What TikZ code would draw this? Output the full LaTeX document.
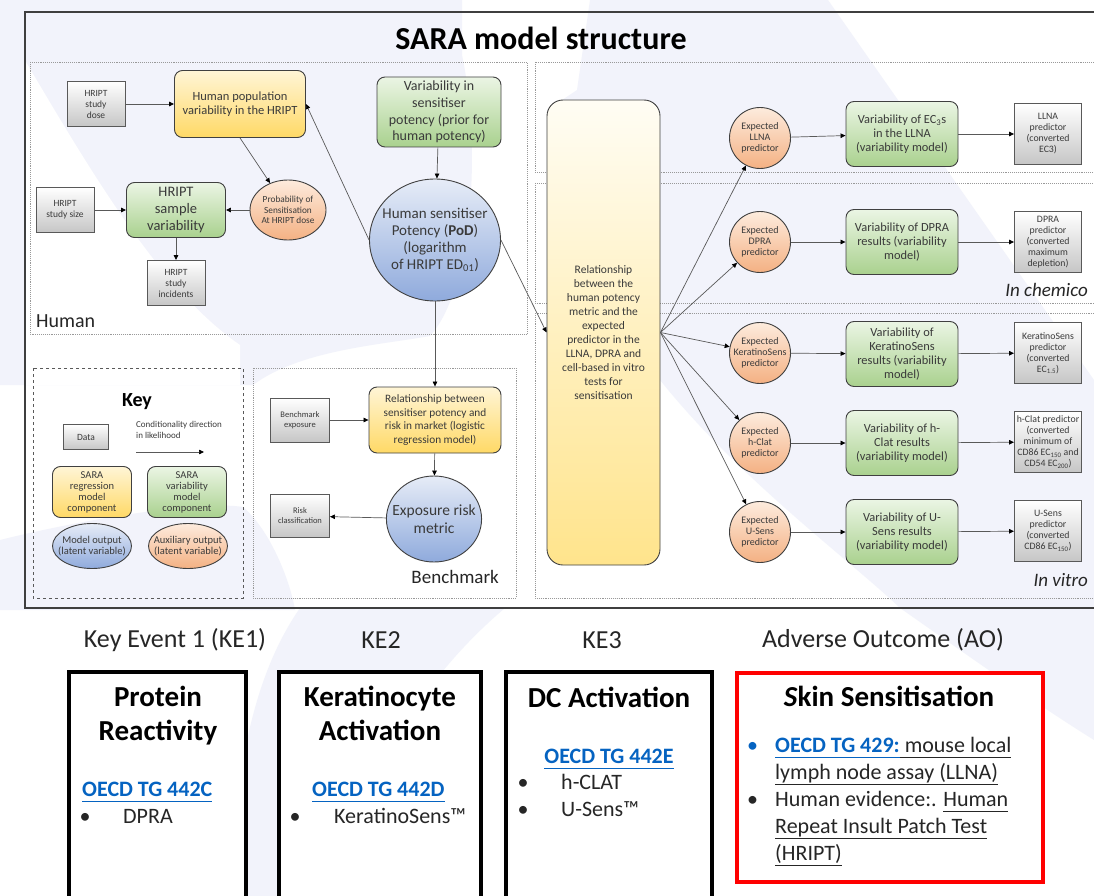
\documentclass[tikz,border=0pt]{standalone}
\usepackage{fontspec}
\setmainfont{Carlito}
\usetikzlibrary{arrows.meta,positioning,shapes.geometric}
\definecolor{lavbg}{HTML}{F2F3FB}
\definecolor{framegray}{HTML}{3F3F3F}
\definecolor{edgegray}{HTML}{404040}
\definecolor{txtgray}{HTML}{3A3A3A}
\definecolor{datagray}{HTML}{C6C6C6}
\definecolor{yeltop}{HTML}{FFF5D6}
\definecolor{yelbot}{HTML}{FFD966}
\definecolor{reltop}{HTML}{FFFDF4}
\definecolor{relbot}{HTML}{FFE48C}
\definecolor{grntop}{HTML}{EBF5E4}
\definecolor{grnbot}{HTML}{A9D18E}
\definecolor{blutop}{HTML}{E6ECF7}
\definecolor{blubot}{HTML}{8FAADC}
\definecolor{orgtop}{HTML}{FDEBDD}
\definecolor{orgbot}{HTML}{F4B183}
\definecolor{linkblue}{HTML}{0563C1}
\definecolor{aored}{HTML}{FF0000}
\definecolor{arrowgray}{HTML}{595959}
\newcommand{\fsz}[2]{\fontsize{#1}{#2}\selectfont}
\newcommand{\ulin}[1]{$\underline{\hbox{#1\vphantom{(y}}}$}
\newcommand{\oecd}[1]{\textcolor{linkblue}{\textbf{\ulin{#1}}}}
\tikzset{
  shapebase/.style = {draw=edgegray,line width=0.9pt,align=center,
                      inner sep=1pt,text=txtgray},
  databox/.style   = {shapebase,rectangle,draw=arrowgray,top color=white,
                      bottom color=datagray,minimum width=58pt,
                      minimum height=45pt,font=\fsz{9.5}{11}},
  regbox/.style    = {shapebase,rounded corners=8pt,top color=yeltop,
                      bottom color=yelbot},
  relbox/.style    = {shapebase,rounded corners=16pt,top color=reltop,
                      bottom color=relbot},
  varbox/.style    = {shapebase,rounded corners=8pt,top color=grntop,
                      bottom color=grnbot},
  outnode/.style   = {shapebase,ellipse,inner xsep=-8pt,inner ysep=-4pt,
                      top color=blutop,bottom color=blubot},
  auxnode/.style   = {shapebase,ellipse,inner xsep=-8pt,inner ysep=-4pt,
                      top color=orgtop,bottom color=orgbot},
  expnode/.style   = {auxnode,minimum width=61pt,minimum height=61pt,
                      font=\fsz{10}{11}},
  varrow/.style    = {varbox,minimum width=112pt,minimum height=65pt,
                      font=\fsz{12.4}{14}},
  predbox/.style   = {databox,minimum width=67pt,minimum height=61pt,
                      font=\fsz{9.8}{11}},
  link/.style      = {-{Triangle[length=5pt,width=4.5pt,color=black]},
                      draw=arrowgray,line width=0.7pt},
  framebox/.style  = {draw=framegray,line width=2.2pt},
  panel/.style     = {draw=black!40,densely dotted,line width=0.9pt},
  keyframe/.style  = {draw=arrowgray,dashed,line width=1pt},
  panellbl/.style  = {font=\fsz{19}{22},text=black!85,inner sep=0pt},
  kebox/.style     = {draw=black,line width=4pt,fill=white},
  aobox/.style     = {draw=aored,line width=4pt,fill=white},
  kelbl/.style     = {font=\fsz{26}{30},text=black!85},
  ketitle/.style   = {font=\bfseries\fsz{29}{34},align=center,text=black,
                      inner sep=0pt},
  ketext/.style    = {font=\fsz{22}{27},text=black!85,inner sep=0pt},
}

\begin{document}
\begin{tikzpicture}[x=1pt,y=-1pt]
  \useasboundingbox (0,0) rectangle (1094,896);
  \clip (0,0) rectangle (1094,896);

  % background swooshes
  \fill[white] (0,0) rectangle (1094,896);
  \fill[lavbg] (0,0) -- (462,0) -- (462,55)
        .. controls (482,150) and (472,290) .. (430,336)
        .. controls (380,345) and (300,350) .. (253,385) -- (0,385) -- cycle;
  \fill[white] (26,62) .. controls (90,170) and (160,290) .. (240,345)
        -- (240,385) -- (26,385) -- cycle;
  \fill[lavbg] (0,540) .. controls (80,520) and (200,500) .. (243,507)
        .. controls (270,530) and (290,580) .. (295,610) -- (0,610) -- cycle;
  \fill[lavbg] (590,0) -- (828,0) -- (1033,293) -- (1094,380) -- (1094,740)
        .. controls (1030,700) and (960,650) .. (900,608)
        .. controls (850,560) and (740,480) .. (660,380)
        -- (547,330) -- (547,110) -- (577,90) -- cycle;
  \fill[lavbg] (300,608) -- (505,608)
        .. controls (420,680) and (360,780) .. (340,896) -- (230,896)
        .. controls (235,780) and (250,680) .. cycle;

  % frames
  \draw[framebox] (25,12) rectangle (1110,608);
  \draw[panel] (30,62) rectangle (527,334);
  \draw[panel] (253,368) rectangle (516,598);
  \draw[panel] (535,62) rectangle (1110,172);
  \draw[panel] (535,183) rectangle (1110,303);
  \draw[panel] (535,313) rectangle (1110,598);
  \draw[keyframe] (33,368) rectangle (243,598);

  \node[font=\bfseries\fsz{32}{36},text=black] (title) at (541,38)
        {SARA model structure};

  % Human
  \node[databox] (dose) at (96,104) {HRIPT\\study\\dose};
  \node[regbox,minimum width=131pt,minimum height=67pt,font=\fsz{12.5}{14}]
        (popvar) at (240,104) {Human population\\variability in the HRIPT};
  \node[databox] (ssize) at (65,210) {HRIPT\\study size};
  \node[varbox,minimum width=99pt,minimum height=55pt,font=\fsz{14.5}{17}]
        (sample) at (176,210) {HRIPT\\sample\\variability};
  \node[databox] (incid) at (176,283) {HRIPT\\study\\incidents};
  \node[auxnode,minimum width=76pt,minimum height=60pt,font=\fsz{9.3}{10.8}]
        (prob) at (288,210) {Probability of\\Sensitisation\\At HRIPT dose};
  \node[varbox,minimum width=124pt,minimum height=70pt,font=\fsz{14}{16.7}]
        (prior) at (439,112)
        {Variability in\\sensitiser\\potency (prior for\\human potency)};
  \node[outnode,minimum width=131pt,minimum height=122pt,font=\fsz{15}{16.8}]
        (pod) at (435,240) {Human sensitiser\\Potency (\textbf{PoD})\\(logarithm\\
        of HRIPT ED\textsubscript{01})};
  \node[panellbl,anchor=west,font=\fsz{20}{22}] (humanlbl) at (36,321) {Human};

  % Relationship to the predictors
  \node[relbox,minimum width=113pt,minimum height=465pt,font=\fsz{11.5}{14}]
        (rel) at (603.5,332.5) {Relationship\\between the\\human potency\\
        metric and the\\expected\\predictor in the\\LLNA, DPRA and\\
        cell-based in vitro\\tests for\\sensitisation};

  % In chemico rows
  \node[expnode] (llna-exp) at (760,138) {Expected\\LLNA\\predictor};
  \node[varrow] (llna-var) at (902,134)
        {Variability of EC\textsubscript{3}s\\in the LLNA\\(variability model)};
  \node[predbox] (llna-pred) at (1048,134) {LLNA\\predictor\\(converted\\EC3)};
  \node[expnode] (dpra-exp) at (760,242) {Expected\\DPRA\\predictor};
  \node[varrow] (dpra-var) at (902,242)
        {Variability of DPRA\\results (variability\\model)};
  \node[predbox] (dpra-pred) at (1048,242)
        {DPRA\\predictor\\(converted\\maximum\\depletion)};
  \node[panellbl,anchor=east,font=\itshape\fsz{19}{22}] (chemlbl) at (1088,290)
        {In chemico};

  % In vitro rows
  \node[expnode] (ks-exp) at (760,353) {Expected\\KeratinoSens\\predictor};
  \node[varrow] (ks-var) at (902,354)
        {Variability of\\KeratinoSens\\results (variability\\model)};
  \node[predbox] (ks-pred) at (1048,353)
        {KeratinoSens\\predictor\\(converted\\EC\textsubscript{1.5})};
  \node[expnode] (hclat-exp) at (760,443) {Expected\\h-Clat\\predictor};
  \node[varrow] (hclat-var) at (902,443)
        {Variability of h-\\Clat results\\(variability model)};
  \node[predbox] (hclat-pred) at (1048,442)
        {h-Clat predictor\\(converted\\minimum of\\CD86 EC\textsubscript{150} and\\
        CD54 EC\textsubscript{200})};
  \node[expnode] (usens-exp) at (760,532) {Expected\\U-Sens\\predictor};
  \node[varrow] (usens-var) at (902,532)
        {Variability of U-\\Sens results\\(variability model)};
  \node[predbox] (usens-pred) at (1048,531)
        {U-Sens\\predictor\\(converted\\CD86 EC\textsubscript{150})};
  \node[panellbl,anchor=east,font=\itshape\fsz{19}{22}] (vitrolbl) at (1088,580)
        {In vitro};

  % Key
  \node[font=\bfseries\fsz{20}{22},text=black] (keytitle) at (137,402) {Key};
  \node[databox,minimum width=45pt,minimum height=25pt] (keydata) at (86,437)
        {Data};
  \node[anchor=north west,align=left,font=\fsz{9}{11},text=txtgray,
        inner sep=0pt] (keycond) at (136,421)
        {Conditionality direction\\in likelihood};
  \coordinate (keyA) at (136,452);
  \coordinate (keyB) at (204,452);
  \node[regbox,minimum width=79pt,minimum height=51pt,font=\fsz{10.5}{11}]
        (keyreg) at (92,492) {SARA\\regression\\model\\component};
  \node[varbox,minimum width=79pt,minimum height=51pt,font=\fsz{10.5}{11}]
        (keyvar) at (187,492) {SARA\\variability\\model\\component};
  \node[outnode,minimum width=79pt,minimum height=45pt,font=\fsz{10.5}{11.5}]
        (keyout) at (92,546) {Model output\\(latent variable)};
  \node[auxnode,minimum width=79pt,minimum height=45pt,font=\fsz{10.5}{11.5}]
        (keyaux) at (188,546) {Auxiliary output\\(latent variable)};

  % Benchmark
  \node[databox,minimum width=59pt,minimum height=44pt,font=\fsz{8.5}{10}]
        (bexp) at (300,420) {Benchmark\\exposure};
  \node[regbox,minimum width=132pt,minimum height=66pt,font=\fsz{11.3}{13.7}]
        (breg) at (435,420) {Relationship between\\sensitiser potency and\\
        risk in market (logistic\\regression model)};
  \node[outnode,minimum width=95pt,minimum height=86pt,font=\fsz{15.5}{18}]
        (brisk) at (434,519) {Exposure risk\\metric};
  \node[databox,minimum width=59pt,minimum height=43pt,font=\fsz{8.5}{10}]
        (bclass) at (300,516) {Risk\\classification};
  \node[panellbl,anchor=east] (benchlbl) at (499,577) {Benchmark};

  % connectors
  \draw[link] (dose) -- (popvar);
  \draw[link] (popvar.south) -- (prob);
  \draw[link] (prob) -- (sample);
  \draw[link] (ssize) -- (sample);
  \draw[link] (sample) -- (incid);
  \draw[link] (prior) -- (pod);
  \draw[link] (pod.west) -- (popvar.east);
  \draw[link] (pod.east) -- (rel.west);
  \draw[link] (pod.south) -- (breg.north);
  \draw[link] (bexp) -- (breg);
  \draw[link] (breg) -- (brisk);
  \draw[link] (brisk) -- (bclass);
  \draw[link] (keyA) -- (keyB);
  \foreach \r in {llna,dpra,ks,hclat,usens}{
    \draw[link] (rel.east) -- (\r-exp);
    \draw[link] (\r-exp) -- (\r-var);
    \draw[link] (\r-var) -- (\r-pred);
  }

  % Adverse outcome pathway
  \node[kelbl] (ke1lab) at (175,640) {Key Event 1 (KE1)};
  \node[kelbl] (ke2lab) at (381,640) {KE2};
  \node[kelbl] (ke3lab) at (602,640) {KE3};
  \node[kelbl] (aolab) at (883,640) {Adverse Outcome (AO)};

  \draw[kebox] (69,672) rectangle (246,930);
  \draw[kebox] (279,672) rectangle (481,930);
  \draw[kebox] (506,672) rectangle (712,930);
  \draw[aobox] (737,673) rectangle (1043,882);

  % KE1
  \node[ketitle] (ke1title) at (158,716) {Protein\\Reactivity};
  \node[ketext,anchor=base west] (ke1tg) at (82,796) {\oecd{OECD TG 442C}};
  \node[ketext,anchor=base] (ke1dot) at (85,823) {•};
  \node[ketext,anchor=base west] (ke1item) at (123,823) {DPRA};
  % KE2
  \node[ketitle] (ke2title) at (380,713) {Keratinocyte\\Activation};
  \node[ketext,anchor=base west] (ke2tg) at (312,796) {\oecd{OECD TG 442D}};
  \node[ketext,anchor=base] (ke2dot) at (295,823) {•};
  \node[ketext,anchor=base west] (ke2item) at (334,823) {KeratinoSens™};
  % KE3
  \node[ketitle,anchor=base] (ke3title) at (609,707) {DC Activation};
  \node[ketext,anchor=base] (ke3tg) at (609,763) {\oecd{OECD TG 442E}};
  \node[ketext,anchor=base] (ke3dot1) at (523,789) {•};
  \node[ketext,anchor=base west] (ke3item1) at (561,789) {h-CLAT};
  \node[ketext,anchor=base] (ke3dot2) at (523,816) {•};
  \node[ketext,anchor=base west] (ke3item2) at (561,816) {U-Sens™};
  % AO
  \node[ketitle,anchor=base] (aotitle) at (889,706)
        {\textit{S}kin Sensitisation};
  \node[ketext,anchor=north west] (aolist) at (747,733) {%
    \begin{tabular}{@{}p{28pt}@{}l@{}}
      \textcolor{linkblue}{•} & \oecd{OECD TG 429:}\ulin{ mouse local}\\
        & \ulin{lymph node assay (LLNA)}\\
      • & Human evidence:. \ulin{Human}\\
        & \ulin{Repeat Insult Patch Test}\\
        & \ulin{(HRIPT)}
    \end{tabular}};
\end{tikzpicture}
\end{document}
